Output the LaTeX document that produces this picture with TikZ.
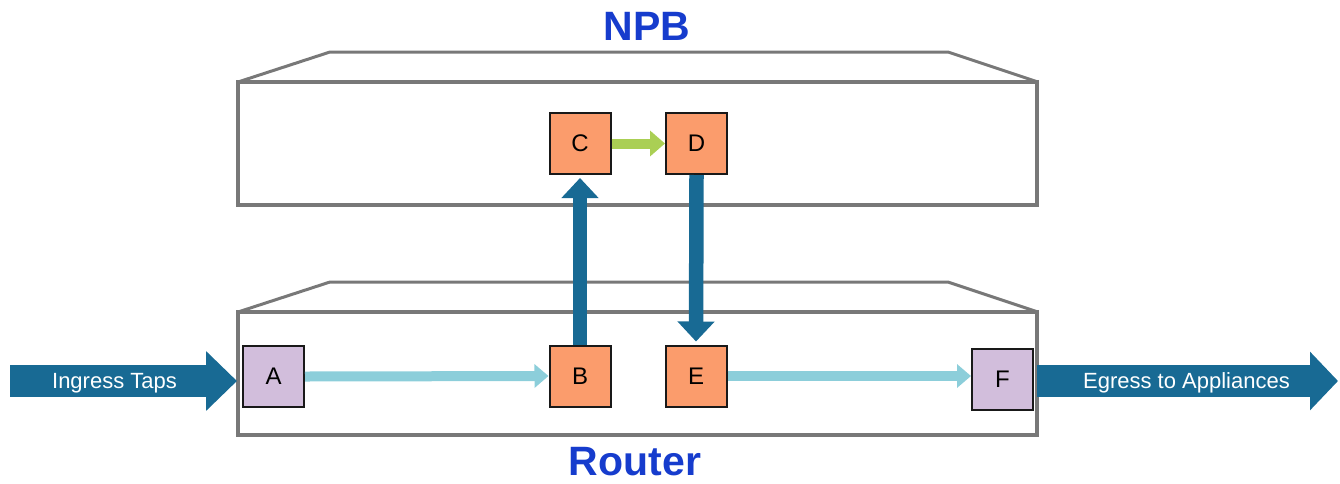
\documentclass[tikz,border=0pt]{standalone}
\usepackage{fontspec}
\setmainfont{Liberation Sans}
\usetikzlibrary{arrows.meta,calc}
\definecolor{framegray}{RGB}{120,120,120}
\definecolor{darkblue}{RGB}{24,106,148}
\definecolor{lightblue}{RGB}{140,206,218}
\definecolor{limegreen}{RGB}{170,207,84}
\definecolor{orangebox}{RGB}{251,156,108}
\definecolor{lavbox}{RGB}{210,190,220}
\definecolor{titleblue}{RGB}{22,60,205}
\tikzset{
  frontface/.style={draw=framegray, line width=4.5pt, line join=miter},
  topface/.style={draw=framegray, line width=3pt, line join=round},
  portbox/.style={draw=black!90, line width=2pt, minimum width=61pt, minimum height=61pt, inner sep=0pt, font=\fontsize{24}{24}\selectfont},
  orangeport/.style={portbox, fill=orangebox},
  lavport/.style={portbox, fill=lavbox},
  bluearr/.style={draw=darkblue, line width=14.5pt, -{Triangle[width=36pt,length=20pt]}},
  lightarr/.style={draw=lightblue, line width=10pt, -{Triangle[width=23pt,length=14pt]}},
  greenarr/.style={draw=limegreen, line width=10pt, -{Triangle[width=25pt,length=15pt]}},
  bigarr/.style={draw=darkblue, line width=32pt},
  arrtext/.style={text=white, font=\fontsize{22}{22}\selectfont, anchor=base, inner sep=0pt},
  title/.style={text=titleblue, font=\bfseries\fontsize{41}{41}\selectfont, anchor=base, inner sep=0pt}
}
\begin{document}
\begin{tikzpicture}[x=1pt,y=-1pt]
\useasboundingbox (0,0) rectangle (1340,483);
% NPB box
\draw[topface] (238,82) -- (330,52) -- (948,52) -- (1038,82);
\draw[frontface] (238,82) rectangle (1037,205);
% Router box
\draw[topface] (238,312) -- (330,282) -- (948,282) -- (1038,312);
\draw[frontface] (238,312) rectangle (1037,435);
% titles
\node[title] (npb) at (647,40) {NPB};
\node[title] (router) at (635,475) {Router};
% ports
\node[orangeport] (C) at (580,143.5) {C};
\node[orangeport] (D) at (696.5,143.5) {D};
\node[orangeport] (B) at (580,376) {B};
\node[orangeport] (E) at (696,376) {E};
\node[lavport] (A) at (273.5,376.5) {A};
\node[lavport] (F) at (1002.5,379) {F};
% internal arrows
\draw[lightarr] (A.east) -- (B.west);
\draw[lightarr] (E.east) -- (E.east -| F.west);
\draw[greenarr] (C.east) -- (D.west);
\draw[bluearr, shorten >=3pt] (B.north) -- (C.south);
\draw[bluearr, shorten >=3pt] (D.south) -- (E.north);
% ingress / egress
\coordinate (inStart) at (10,381);
\coordinate (outEnd) at (1338,381);
\draw[bigarr, -{Triangle[width=58pt,length=31pt]}, shorten >=5pt] (inStart) -- (inStart -| A.west);
\draw[bigarr, -{Triangle[width=57pt,length=28pt]}, shorten <=3pt] (outEnd -| F.east) -- (outEnd);
\node[arrtext] (ingress) at (114.5,388) {Ingress Taps};
\node[arrtext] (egress) at (1186.5,388) {Egress to Appliances};
\end{tikzpicture}
\end{document}
